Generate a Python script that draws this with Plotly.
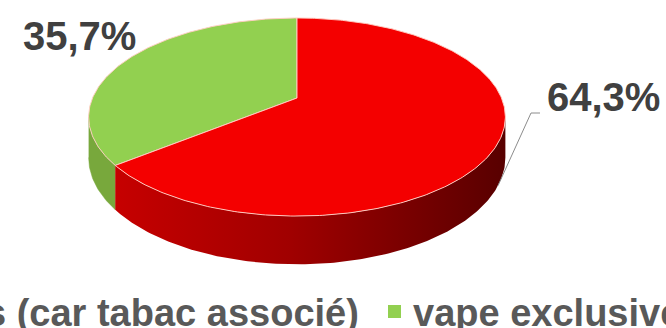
import numpy as np
import plotly.graph_objects as go

# ---- data ----
categories = ["vape non exclusive (car tabac associé)", "vape exclusive"]
values = [64.3, 35.7]
labels = ["64,3%", "35,7%"]
legend_texts = ["s (car tabac associé)", "vape exclusive"]

# ---- style / geometry (pixels) ----
W, H = 666, 328
cx, cy = 297, 98          # projected pie centre
R, A = 204.5, 95.4        # horizontal / vertical radius
p = 0.192                 # perspective strength
D = 39                    # side depth
top_colors = ["#f40000", "#92d050"]
side_green = "#78a83c"
red_side_left = "#c60000"
red_side_right = "#580000"
edge_col = "rgba(255,205,195,0.95)"
text_col = "#404040"
legend_col = "#595959"
FONT = "Liberation Sans, Arial, sans-serif"

total = sum(values)
green_frac = values[1] / total
a0 = 90.0                              # green starts at 12 o'clock, counter-clockwise
a_split = a0 + 360.0 * green_frac      # green -> red boundary


def proj(theta_deg, drop=0.0):
    t = np.radians(theta_deg)
    u, v = np.cos(t), np.sin(t)
    s = 1.0 / (1.0 + p * v)
    return cx + R * u * s, cy - A * v * s + D * s * drop


fig = go.Figure()


def poly(xs, ys, color, line_color=None, lw=0):
    fig.add_trace(go.Scatter(
        x=list(xs), y=list(ys), mode="lines", fill="toself",
        fillcolor=color,
        line=dict(color=line_color if line_color else color, width=lw if line_color else 0.5),
        hoverinfo="skip", showlegend=False))


th_left = 180 + np.degrees(np.arcsin(p))
th_right = 360 - np.degrees(np.arcsin(p))

# ---- sides ----
th = np.linspace(th_left, a_split, 40)
x1, y1 = proj(th)
x2, y2 = proj(th[::-1], 1)
poly(np.r_[x1, x2], np.r_[y1, y2], side_green)

th = np.linspace(a_split, th_right, 160)
x1, y1 = proj(th)
x2, y2 = proj(th[::-1], 1)
xl = proj(a_split)[0]
xr = proj(th_right)[0]
fig.add_trace(go.Scatter(
    x=list(np.r_[x1, x2]), y=list(np.r_[y1, y2]), mode="lines", fill="toself",
    line=dict(width=0, color=red_side_right),
    fillgradient=dict(type="horizontal", start=xl, stop=xr,
                      colorscale=[[0, red_side_left], [0.45, "#a00000"], [1, red_side_right]]),
    hoverinfo="skip", showlegend=False))

# ---- top faces ----
xg, yg = proj(np.linspace(a0, a_split, 160))
poly(np.r_[cx, xg, cx], np.r_[cy, yg, cy], top_colors[1], edge_col, 1)
xr_, yr_ = proj(np.linspace(a_split, a0 + 360, 320))
poly(np.r_[cx, xr_, cx], np.r_[cy, yr_, cy], top_colors[0], edge_col, 1)

# ---- labels ----
mid_red = (a_split + a0 + 360) / 2
ex, ey = proj(mid_red, 1.0)
fig.add_trace(go.Scatter(x=[540, 531, ex], y=[113, 113, ey], mode="lines",
                         line=dict(color="#8c8c8c", width=1), hoverinfo="skip",
                         showlegend=False))
fig.add_annotation(x=603, y=97, text="<b>%s</b>" % labels[0],
                   showarrow=False, font=dict(family=FONT, size=40, color=text_col),
                   xanchor="center", yanchor="middle")
fig.add_annotation(x=79, y=36, text="<b>%s</b>" % labels[1],
                   showarrow=False, font=dict(family=FONT, size=40, color=text_col),
                   xanchor="center", yanchor="middle")

# ---- legend ----
fig.add_annotation(x=361, y=313, text="<b>%s</b>" % legend_texts[0], showarrow=False,
                   font=dict(family=FONT, size=38, color=legend_col),
                   xanchor="right", yanchor="middle")
fig.add_shape(type="rect", x0=388, x1=401, y0=305, y1=318, fillcolor=top_colors[1],
              line=dict(width=0))
fig.add_annotation(x=411, y=313, text="<b>%s</b>" % legend_texts[1], showarrow=False,
                   font=dict(family=FONT, size=38, color=legend_col),
                   xanchor="left", yanchor="middle")

fig.update_layout(
    width=W, height=H, margin=dict(l=0, r=0, t=0, b=0),
    paper_bgcolor="white", plot_bgcolor="white",
    xaxis=dict(range=[0, W], visible=False, fixedrange=True),
    yaxis=dict(range=[H, 0], visible=False, fixedrange=True),
    showlegend=False,
)
fig.write_html("out.html", config={"displayModeBar": False})
